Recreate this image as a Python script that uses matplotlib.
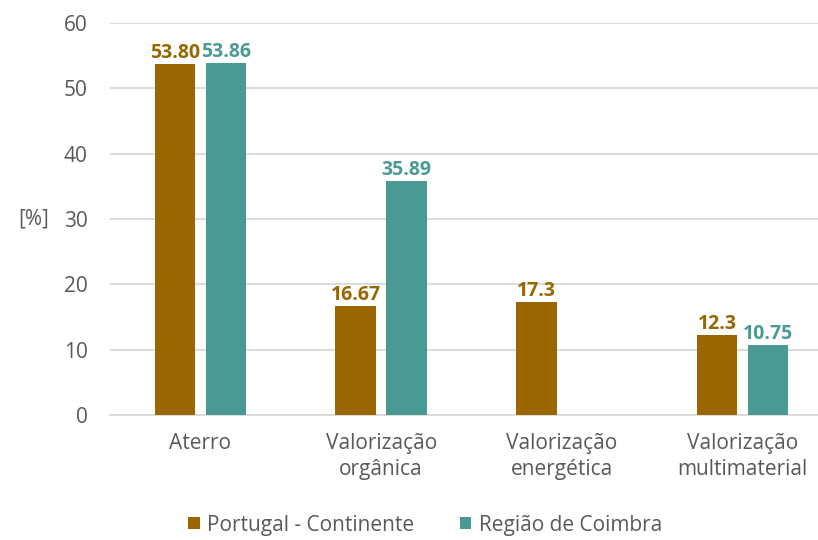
import numpy as np
import matplotlib
matplotlib.use("Agg")
import matplotlib.pyplot as plt
from matplotlib.patches import Patch

plt.rcParams['font.family'] = ['Open Sans', 'DejaVu Sans']

categories = ["Aterro", "Valorização\norgânica", "Valorização\nenergética", "Valorização\nmultimaterial"]
portugal = [53.80, 16.67, 17.3, 12.3]
coimbra = [53.86, 35.89, None, 10.75]
portugal_labels = ["53.80", "16.67", "17.3", "12.3"]
coimbra_labels = ["53.86", "35.89", None, "10.75"]
series_names = ["Portugal - Continente", "Região de Coimbra"]
y_ticks = [0, 10, 20, 30, 40, 50, 60]

c_pt = "#996600"
c_co = "#4A9A94"
text_gray = "#595959"
grid_gray = "#D9D9D9"

W, H = 818, 540
fig = plt.figure(figsize=(W / 100, H / 100), dpi=100)
left, right = 110, 833
top, bottom = 23, 415
ax = fig.add_axes([left / W, 1 - bottom / H, (right - left) / W, (bottom - top) / H])

x = np.arange(len(categories))
bw = 0.224
off = 0.141

for i in range(len(categories)):
    if portugal[i] is not None:
        ax.bar(x[i] - off, portugal[i], bw, color=c_pt, zorder=3)
        ax.text(x[i] - off, portugal[i] + 0.1, portugal_labels[i], ha='center', va='bottom',
                color=c_pt, fontsize=14, fontweight='bold', zorder=4)
    if coimbra[i] is not None:
        ax.bar(x[i] + off, coimbra[i], bw, color=c_co, zorder=3)
        ax.text(x[i] + off, coimbra[i] + 0.1, coimbra_labels[i], ha='center', va='bottom',
                color=c_co, fontsize=14, fontweight='bold', zorder=4)

ax.set_xlim(-0.5, len(categories) - 0.5)
ax.set_ylim(0, 60)
ax.set_yticks(y_ticks)
ax.set_xticks(x)
ax.set_xticklabels(categories, fontsize=15, color=text_gray, linespacing=1.32)
ax.tick_params(axis='y', labelsize=15, labelcolor=text_gray, length=0, pad=16)
ax.tick_params(axis='x', length=0, pad=13)
ax.yaxis.grid(True, color=grid_gray, linewidth=1.3, zorder=0)
ax.set_axisbelow(True)
for s in ['top', 'right', 'left']:
    ax.spines[s].set_visible(False)
ax.spines['bottom'].set_color(grid_gray)
ax.spines['bottom'].set_linewidth(1.3)

fig.text(34 / W, 1 - 219 / H, "[%]", ha='center', va='center', fontsize=15, color=text_gray)

handles = [Patch(facecolor=c_pt), Patch(facecolor=c_co)]
fig.legend(handles, series_names, loc='center', bbox_to_anchor=(425 / W, 1 - 525 / H),
           ncol=2, frameon=False, fontsize=15, labelcolor=text_gray,
           handlelength=0.55, handleheight=0.55, handletextpad=0.35, columnspacing=2.2)

fig.savefig("out.png", dpi=100)
